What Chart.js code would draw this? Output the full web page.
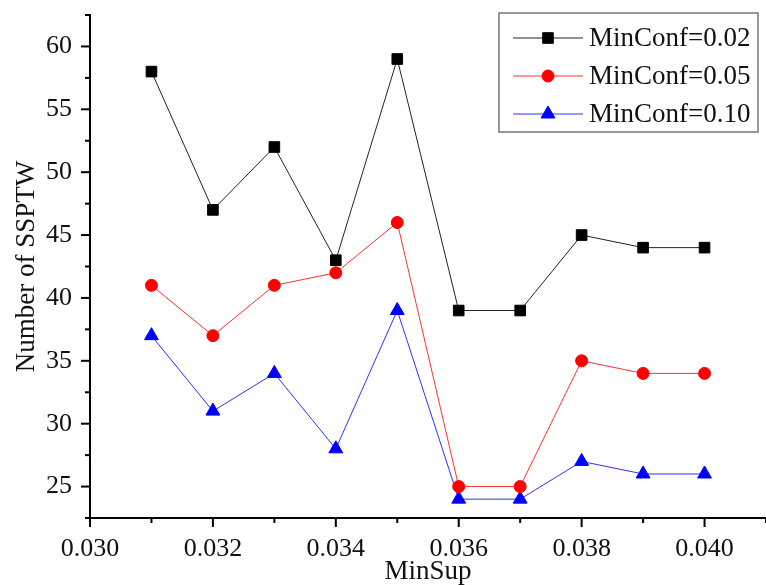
<!DOCTYPE html>
<html>
<head>
<meta charset="utf-8">
<script src="https://cdn.jsdelivr.net/npm/chart.js@4/dist/chart.umd.min.js"></script>
<style>
  html, body { margin: 0; padding: 0; background: #fff; }
  #wrap { width: 766px; height: 585px; }
</style>
</head>
<body>
<div id="wrap"><canvas id="chart" width="766" height="585"></canvas></div>
<script>
// MinSup values along the x axis
const minSup = [0.031, 0.032, 0.033, 0.034, 0.035, 0.036, 0.037, 0.038, 0.039, 0.040];
// SSPTW counts for each MinConf setting
const conf002 = [58, 47, 52, 43, 59, 39, 39, 45, 44, 44];
const conf005 = [41, 37, 41, 42, 46, 25, 25, 35, 34, 34];
const conf010 = [37, 31, 34, 28, 39, 24, 24, 27, 26, 26];
const seriesLabels = ['MinConf=0.02', 'MinConf=0.05', 'MinConf=0.10'];

// axis ranges and steps (minor ticks every step, labels every other one)
const xRange = [0.030, 0.041, 0.001];
const yRange = [22.5, 62.5, 2.5];

const serif = "'Liberation Serif', 'DejaVu Serif', serif";

function pairs(ys) {
  return ys.map((y, i) => ({ x: minSup[i], y: y }));
}

// tick marks: long ones under labels, short ones between
const tickMarks = {
  id: 'tickMarks',
  afterDraw(chart) {
    const ctx = chart.ctx;
    const xs = chart.scales.x, ys = chart.scales.y;
    ctx.save();
    ctx.strokeStyle = '#000';
    ctx.lineWidth = 2;
    xs.ticks.forEach((t, i) => {
      const p = xs.getPixelForTick(i);
      const len = t.label ? 9 : 5;
      ctx.beginPath();
      ctx.moveTo(p, xs.top);
      ctx.lineTo(p, xs.top + len);
      ctx.stroke();
    });
    ys.ticks.forEach((t, i) => {
      const p = ys.getPixelForTick(i);
      const len = t.label ? 9 : 5;
      ctx.beginPath();
      ctx.moveTo(ys.right, p);
      ctx.lineTo(ys.right - len, p);
      ctx.stroke();
    });
    ctx.restore();
  }
};

// boxed legend with a short line through each marker
const lineLegend = {
  id: 'lineLegend',
  afterDraw(chart) {
    const ctx = chart.ctx;
    const box = { x: 499, y: 13, w: 259, h: 119 };
    ctx.save();
    ctx.fillStyle = '#fff';
    ctx.fillRect(box.x, box.y, box.w, box.h);
    ctx.strokeStyle = '#777';
    ctx.lineWidth = 1.5;
    ctx.strokeRect(box.x, box.y, box.w, box.h);
    ctx.font = '27px ' + serif;
    ctx.textBaseline = 'middle';
    chart.data.datasets.forEach((ds, i) => {
      const y = 38 + i * 38;
      ctx.strokeStyle = ds.borderColor;
      ctx.lineWidth = 1;
      ctx.beginPath();
      ctx.moveTo(513, y);
      ctx.lineTo(583, y);
      ctx.stroke();
      ctx.fillStyle = ds.pointBackgroundColor;
      ctx.strokeStyle = ds.pointBackgroundColor;
      Chart.helpers.drawPoint(ctx, {
        pointStyle: ds.pointStyle,
        radius: ds.pointRadius,
        rotation: 0,
        borderWidth: 1
      }, 548, y);
      ctx.fillStyle = '#111';
      ctx.fillText(ds.label, 589, y + 1);
    });
    ctx.restore();
  }
};

const data = {
  datasets: [
    {
      label: seriesLabels[0],
      data: pairs(conf002),
      borderColor: '#222',
      borderWidth: 1,
      pointStyle: 'rect',
      pointRadius: 7.5,
      pointBackgroundColor: '#000',
      pointBorderColor: '#000'
    },
    {
      label: seriesLabels[1],
      data: pairs(conf005),
      borderColor: '#ff3030',
      borderWidth: 1,
      pointStyle: 'circle',
      pointRadius: 6,
      pointBackgroundColor: '#f00',
      pointBorderColor: '#f00'
    },
    {
      label: seriesLabels[2],
      data: pairs(conf010),
      borderColor: '#3030ff',
      borderWidth: 1,
      pointStyle: 'triangle',
      pointRadius: 8,
      pointBackgroundColor: '#00f',
      pointBorderColor: '#00f'
    }
  ]
};

const config = {
  type: 'line',
  data: data,
  plugins: [tickMarks, lineLegend],
  options: {
    responsive: false,
    animation: false,
    layout: { autoPadding: false, padding: { top: 15, right: 0, bottom: 0, left: 0 } },
    elements: { line: { tension: 0 } },
    plugins: {
      legend: { display: false },
      tooltip: { enabled: false }
    },
    scales: {
      x: {
        type: 'linear',
        min: xRange[0],
        max: xRange[1],
        afterFit(scale) {
          scale.height = 67;
          scale.paddingLeft = 0;
          scale.paddingRight = 0;
        },
        border: { display: true, color: '#000', width: 2 },
        grid: { display: true, drawOnChartArea: false, drawTicks: false },
        ticks: {
          stepSize: xRange[2],
          autoSkip: false,
          maxRotation: 0,
          padding: 16,
          color: '#111',
          font: { family: serif, size: 26 },
          callback: v => Math.round(v * 1000) % 2 === 0 ? v.toFixed(3) : ''
        },
        title: {
          display: true,
          text: 'MinSup',
          color: '#111',
          font: { family: serif, size: 27, lineHeight: 1 },
          padding: 0
        }
      },
      y: {
        min: yRange[0],
        max: yRange[1],
        afterFit(scale) {
          scale.width = 90;
          scale.paddingTop = 0;
          scale.paddingBottom = 0;
        },
        border: { display: true, color: '#000', width: 2 },
        grid: { display: true, drawOnChartArea: false, drawTicks: false },
        ticks: {
          stepSize: yRange[2],
          autoSkip: false,
          padding: 18,
          color: '#111',
          font: { family: serif, size: 26 },
          callback: v => v % 5 === 0 ? String(v) : ''
        },
        title: {
          display: true,
          text: 'Number of SSPTW',
          color: '#111',
          font: { family: serif, size: 27, lineHeight: 1 },
          padding: { top: 13, bottom: 0 }
        }
      }
    }
  }
};

const chart = new Chart(document.getElementById('chart'), config);
</script>
</body>
</html>
